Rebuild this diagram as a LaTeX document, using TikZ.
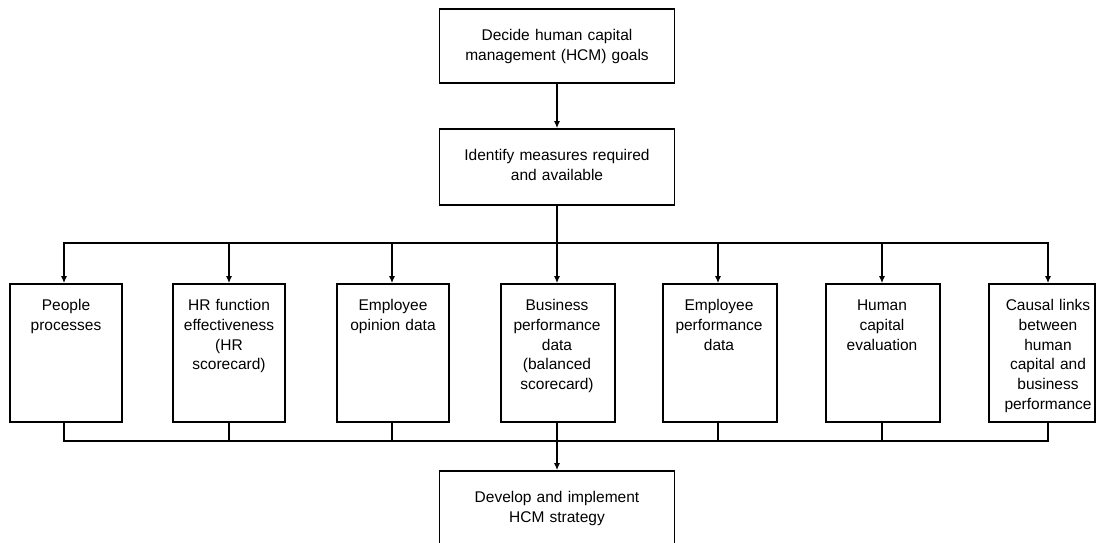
\documentclass[tikz,border=0pt]{standalone}
\usepackage{fontspec}
\setmainfont{Liberation Sans}
\usetikzlibrary{arrows.meta}
\begin{document}
\begin{tikzpicture}[x=1pt,y=-1pt,
  box/.style={draw, line width=1.6pt, rectangle, inner sep=0pt},
  txt/.style={align=center, inner sep=0pt, anchor=base,
    font=\fontsize{15.5}{19.8}\selectfont},
  link/.style={line width=1.6pt},
  arr/.style={link, -{Latex[length=7pt,width=6pt]}}]
\clip (0,0) rectangle (1097,543);

% top chain
\node[box, minimum width=235, minimum height=74] (goals) at (557,46) {};
\node[txt, text width=230] (goalsT) at (557,40.5) {Decide human capital\\management (HCM) goals};
\node[box, minimum width=235, minimum height=76] (measures) at (557,167) {};
\node[txt, text width=230] (measuresT) at (557,160.5) {Identify measures required\\and available};

% row of measure boxes (top 284, bottom 422)
\node[box, minimum width=112, minimum height=138] (pp) at (66,353) {};
\node[box, minimum width=112, minimum height=138] (hr) at (229,353) {};
\node[box, minimum width=112, minimum height=138] (eo) at (393,353) {};
\node[box, minimum width=114, minimum height=138] (bp) at (558,353) {};
\node[box, minimum width=114, minimum height=138] (ep) at (720,353) {};
\node[box, minimum width=114, minimum height=138] (hc) at (883,353) {};
\node[box, minimum width=106, minimum height=138] (cl) at (1042,353) {};

\node[txt, text width=108] (ppT) at (66,310.5) {People\\processes};
\node[txt, text width=108] (hrT) at (229,310.5) {HR function\\effectiveness\\(HR\\scorecard)};
\node[txt, text width=108] (eoT) at (393,310.5) {Employee\\opinion data};
\node[txt, text width=108] (bpT) at (557,310.5) {Business\\performance\\data\\(balanced\\scorecard)};
\node[txt, text width=108] (epT) at (719,310.5) {Employee\\performance\\data};
\node[txt, text width=108] (hcT) at (882,310.5) {Human\\capital\\evaluation};
\node[txt, text width=100] (clT) at (1048,310.5) {Causal links\\between\\human\\capital and\\business\\performance};

% final box, running off the lower edge
\node[box, minimum width=235, minimum height=90] (strategy) at (557,516) {};
\node[txt, text width=230] (strategyT) at (557,502.5) {Develop and implement\\HCM strategy};

% distribution bus
\coordinate (t1) at (64,243);
\coordinate (t2) at (229,243);
\coordinate (t3) at (392,243);
\coordinate (t4) at (557,243);
\coordinate (t5) at (718,243);
\coordinate (t6) at (882,243);
\coordinate (t7) at (1048,243);

% collection bus
\coordinate (u1) at (64,441);
\coordinate (u2) at (229,441);
\coordinate (u3) at (392,441);
\coordinate (u4) at (557,441);
\coordinate (u5) at (718,441);
\coordinate (u6) at (882,441);
\coordinate (u7) at (1048,441);

\draw[arr] (goals.south) -- (measures.north);

\draw[arr] (measures.south) |- (t1) -- (t1 |- pp.north);
\draw[arr] (measures.south) |- (t7) -- (t7 |- cl.north);
\draw[arr] (t2) -- (t2 |- hr.north);
\draw[arr] (t3) -- (t3 |- eo.north);
\draw[arr] (t4) -- (t4 |- bp.north);
\draw[arr] (t5) -- (t5 |- ep.north);
\draw[arr] (t6) -- (t6 |- hc.north);

\draw[link] (u1 |- pp.south) |- (u4);
\draw[link] (u7 |- cl.south) |- (u4);
\draw[link] (u2 |- hr.south) -- (u2);
\draw[link] (u3 |- eo.south) -- (u3);
\draw[link] (u5 |- ep.south) -- (u5);
\draw[link] (u6 |- hc.south) -- (u6);
\draw[arr] (u4 |- bp.south) -- (u4 |- strategy.north);
\end{tikzpicture}
\end{document}
